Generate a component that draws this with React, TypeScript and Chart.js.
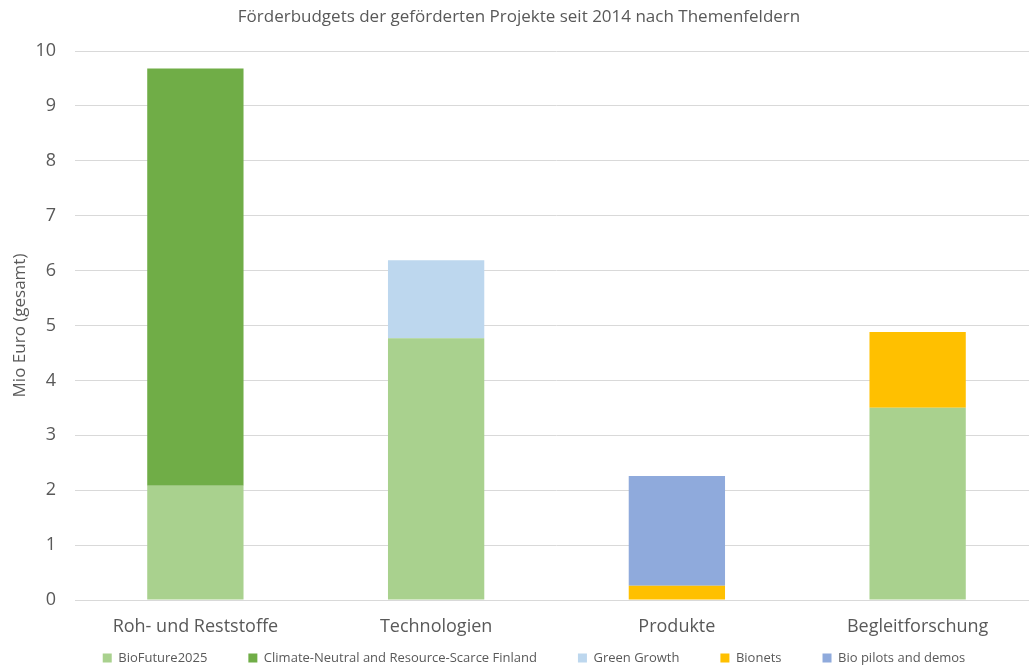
import React, { useEffect, useRef } from "react";
import { Chart, registerables } from "chart.js";

Chart.register(...registerables);

const categories = ["Roh- und Reststoffe", "Technologien", "Produkte", "Begleitforschung"];
const bioFuture2025 = [2.08, 4.77, 0, 3.5];
const climateNeutral = [7.6, 0, 0, 0];
const greenGrowth = [0, 1.42, 0, 0];
const bionets = [0, 0, 0.26, 1.38];
const bioPilots = [0, 0, 2.0, 0];
const yTicks = [0, 1, 2, 3, 4, 5, 6, 7, 8, 9, 10];

const FONT = "'Open Sans', sans-serif";
const TEXT = "#595959";
const LEGEND_PAD = 41;
const LEGEND_FONT = 13;
const W = 1038;
const H = 668;

const legendTweak = {
  id: "legendTweak",
  beforeUpdate(chart: any) {
    const lg = chart.legend;
    if (lg && !lg.__tweaked) {
      lg.__tweaked = true;
      const origFit = lg.fit.bind(lg);
      lg.fit = function () {
        origFit();
        this.height = 30.4;
      };
    }
  },
  afterLayout(chart: any) {
    const lg = chart.legend;
    if (!lg) return;
    lg.top = 658 - LEGEND_PAD - LEGEND_FONT / 2;
    lg.bottom = H;
    lg.height = lg.bottom - lg.top;
    lg.left += 15;
    lg.right += 15;
  },
};

export default function App() {
  const ref = useRef<HTMLCanvasElement>(null);
  useEffect(() => {
    const prevOverflow = document.body.style.overflow;
    document.body.style.overflow = "hidden";
    const chart = new Chart(ref.current!, {
      type: "bar",
      plugins: [legendTweak],
      data: {
        labels: categories,
        datasets: [
          { label: "BioFuture2025", data: bioFuture2025, backgroundColor: "#A9D18E" },
          { label: "Climate-Neutral and Resource-Scarce Finland", data: climateNeutral, backgroundColor: "#70AD47" },
          { label: "Green Growth", data: greenGrowth, backgroundColor: "#BDD7EE" },
          { label: "Bionets", data: bionets, backgroundColor: "#FFC000" },
          { label: "Bio pilots and demos", data: bioPilots, backgroundColor: "#8FAADC" },
        ],
      },
      options: {
        animation: false,
        responsive: false,
        maintainAspectRatio: false,
        datasets: { bar: { barPercentage: 1, categoryPercentage: 0.4 } },
        layout: { padding: { left: 0, right: 0, top: 0, bottom: 0 } },
        plugins: {
          title: {
            display: true,
            text: "Förderbudgets der geförderten Projekte seit 2014 nach Themenfeldern",
            color: TEXT,
            font: { family: FONT, size: 17, weight: "normal" },
            padding: { top: 7, bottom: 23.6 },
          },
          legend: {
            position: "bottom",
            labels: {
              color: TEXT,
              font: { family: FONT, size: LEGEND_FONT },
              boxWidth: 9,
              boxHeight: 9,
              padding: LEGEND_PAD,
            },
          },
          tooltip: { enabled: false },
        },
        scales: {
          x: {
            stacked: true,
            grid: { display: false, drawTicks: false },
            border: { display: true, color: "#D9D9D9" },
            ticks: { color: TEXT, font: { family: FONT, size: 18 }, padding: 16 },
            afterFit: (axis: any) => {
              axis.height = 37.6;
            },
          },
          y: {
            stacked: true,
            min: 0,
            max: 10,
            afterBuildTicks: (axis: any) => {
              axis.ticks = yTicks.map((v) => ({ value: v }));
            },
            afterFit: (axis: any) => {
              axis.width = 75;
            },
            grid: { color: "#D9D9D9", drawTicks: false },
            border: { display: false },
            ticks: { color: TEXT, font: { family: FONT, size: 18 }, padding: 19 },
            title: {
              display: true,
              text: "Mio Euro (gesamt)",
              color: TEXT,
              font: { family: FONT, size: 17 },
              padding: { top: 10, bottom: 0 },
            },
          },
        },
      },
    });
    return () => {
      chart.destroy();
      document.body.style.overflow = prevOverflow;
    };
  }, []);
  return (
    <div style={{ position: "fixed", left: 0, top: 0, width: W, height: H, background: "#fff" }}>
      <canvas ref={ref} width={W} height={H} style={{ display: "block" }} />
    </div>
  );
}
